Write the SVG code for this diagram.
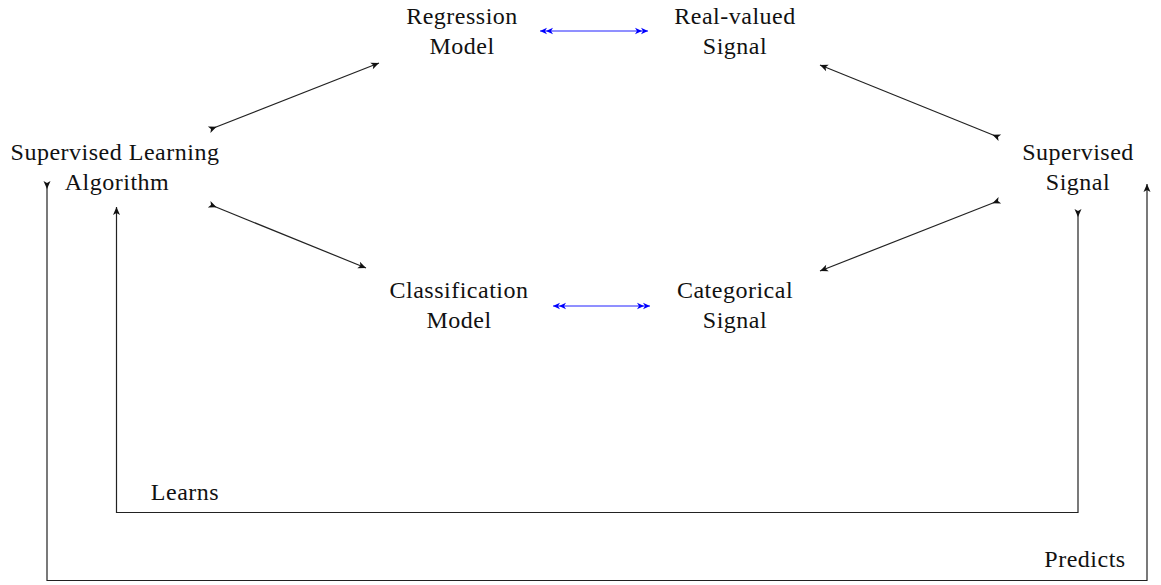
<svg xmlns="http://www.w3.org/2000/svg" width="1161" height="585" viewBox="0 0 1161 585">
<style>
text{font-family:"Liberation Serif","Times New Roman",serif;font-size:24px;letter-spacing:0.5px;fill:#111;text-anchor:middle}
.k{fill:none;stroke:#222;stroke-width:1.2}
.b{fill:none;stroke:#2020ff;stroke-width:1}
</style>
<defs>
<marker id="tip" markerUnits="userSpaceOnUse" viewBox="-10 -5 12 10" refX="0" refY="0" markerWidth="12" markerHeight="10" orient="auto" overflow="visible">
<path d="M0,0 L-8,-3.5 L-6,0 L-8,3.5 Z" fill="#111"/>
</marker>
<marker id="tail" markerUnits="userSpaceOnUse" viewBox="-2 -5 12 10" refX="0" refY="0" markerWidth="12" markerHeight="10" orient="auto" overflow="visible">
<path d="M6,0 L-2,-3.5 L0,0 L-2,3.5 Z" fill="#111"/>
</marker>
<marker id="dbl" markerUnits="userSpaceOnUse" viewBox="-16 -5 18 10" refX="0" refY="0" markerWidth="18" markerHeight="10" orient="auto-start-reverse" overflow="visible">
<path d="M0,0 L-7,-3.2 L-5,0 L-7,3.2 Z M-6,0 L-13,-3.2 L-11,0 L-13,3.2 Z" fill="#00f"/>
</marker>
</defs>
<g id="connectors">
<line class="k" x1="211" y1="129" x2="379" y2="63" marker-start="url(#tail)" marker-end="url(#tip)"/>
<line class="k" x1="211" y1="205" x2="366" y2="268" marker-start="url(#tail)" marker-end="url(#tip)"/>
<line class="k" x1="998" y1="137" x2="820" y2="65" marker-start="url(#tail)" marker-end="url(#tip)"/>
<line class="k" x1="998" y1="201" x2="820" y2="271" marker-start="url(#tail)" marker-end="url(#tip)"/>
<line class="b" x1="540" y1="31" x2="648" y2="31" marker-start="url(#dbl)" marker-end="url(#dbl)"/>
<line class="b" x1="553" y1="306" x2="650" y2="306" marker-start="url(#dbl)" marker-end="url(#dbl)"/>
<path class="k" d="M1078,211 V512.5 H116.5 V207" marker-start="url(#tail)" marker-end="url(#tip)"/>
<path class="k" d="M47,183 V580.5 H1147 V184" marker-start="url(#tail)" marker-end="url(#tip)"/>
<text x="185" y="500">Learns</text>
<text x="1085" y="567">Predicts</text>
</g>
<g id="algorithm">
<text x="115" y="160">Supervised Learning</text>
<text x="117" y="190">Algorithm</text>
</g>
<g id="regression">
<text x="462" y="24">Regression</text>
<text x="462" y="54">Model</text>
</g>
<g id="realvalued">
<text x="735" y="24">Real-valued</text>
<text x="735" y="54">Signal</text>
</g>
<g id="classification">
<text x="459" y="298">Classification</text>
<text x="459" y="328">Model</text>
</g>
<g id="categorical">
<text x="735" y="298">Categorical</text>
<text x="735" y="328">Signal</text>
</g>
<g id="supervised">
<text x="1078" y="160">Supervised</text>
<text x="1078" y="190">Signal</text>
</g>
</svg>
